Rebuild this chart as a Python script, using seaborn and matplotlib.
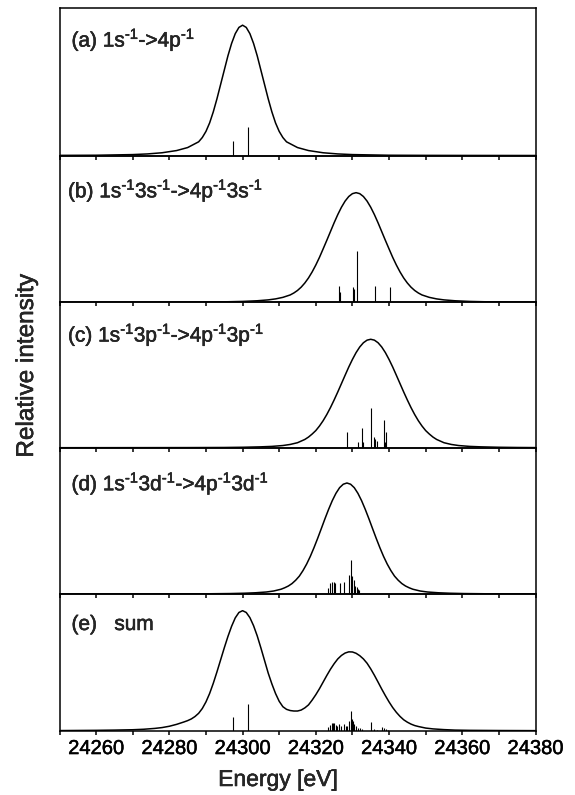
import matplotlib
matplotlib.use("Agg")
import matplotlib.pyplot as plt
import matplotlib.patheffects as pe
from matplotlib.ticker import MultipleLocator
import pandas as pd
import seaborn as sns

# ---------------------------------------------------------------------------
# Broadened spectra, each normalised to the strongest maximum of its panel
# ---------------------------------------------------------------------------
energy_a = [24250, 24260, 24266, 24270, 24274, 24278, 24282, 24285, 24288] \
    + list(range(24289, 24313)) \
    + [24315, 24318, 24322, 24326, 24330, 24334, 24340, 24350, 24360, 24380]
intensity_a = [0.001, 0.002, 0.005, 0.007, 0.012, 0.021, 0.038, 0.061, 0.105,
               0.138, 0.185, 0.25, 0.335, 0.435, 0.545, 0.655, 0.765, 0.86, 0.935,
               0.983, 1.0, 0.983, 0.935, 0.86, 0.765, 0.655, 0.545, 0.435, 0.335,
               0.25, 0.185, 0.138, 0.105,
               0.061, 0.038, 0.021, 0.012, 0.007, 0.005, 0.002, 0.001, 0.0005, 0.0]

energy_b = [24250, 24270, 24280, 24290, 24296, 24300, 24304, 24307, 24309, 24311, 24313] \
    + list(range(24314, 24349)) \
    + [24349, 24351, 24353, 24355, 24358, 24362, 24366, 24372, 24380]
intensity_b = [0.0, 0.0005, 0.001, 0.003, 0.005, 0.008, 0.014, 0.022, 0.031, 0.045, 0.067,
               0.085, 0.108, 0.138, 0.176, 0.222, 0.277, 0.34, 0.41, 0.487, 0.565, 0.645,
               0.725, 0.80, 0.867, 0.923, 0.965, 0.991, 1.0, 0.991, 0.965, 0.923, 0.867,
               0.80, 0.725, 0.645, 0.565, 0.487, 0.41, 0.34, 0.277, 0.222, 0.176, 0.138,
               0.108, 0.085,
               0.067, 0.045, 0.031, 0.022, 0.014, 0.008, 0.005, 0.003, 0.001]

energy_c = [24250, 24270, 24285, 24295, 24300, 24305, 24308, 24311, 24313, 24315, 24317] \
    + list(range(24318, 24353)) \
    + [24353, 24355, 24357, 24359, 24362, 24365, 24370, 24375, 24380]
intensity_c = [0.0, 0.0005, 0.001, 0.002, 0.004, 0.008, 0.012, 0.020, 0.030, 0.046, 0.076,
               0.098, 0.126, 0.158, 0.200, 0.249, 0.306, 0.370, 0.440, 0.514, 0.591, 0.668,
               0.744, 0.814, 0.877, 0.929, 0.968, 0.992, 1.0, 0.992, 0.968, 0.929, 0.877,
               0.814, 0.744, 0.668, 0.591, 0.514, 0.440, 0.370, 0.306, 0.249, 0.200, 0.158,
               0.126, 0.098,
               0.076, 0.046, 0.030, 0.020, 0.012, 0.008, 0.004, 0.002, 0.001]

energy_d = [24250, 24270, 24283.5, 24290.5, 24296.5, 24300.5, 24303.5, 24306.5, 24308.5,
            24310.5, 24311.5] \
    + [24312.5 + k for k in range(33)] \
    + [24345.5, 24346.5, 24348.5, 24350.5, 24353.5, 24356.5, 24360.5, 24366.5, 24373.5, 24380]
intensity_d = [0.0, 0.0005, 0.001, 0.002, 0.004, 0.007, 0.011, 0.018, 0.027, 0.043, 0.056,
               0.072, 0.094, 0.124, 0.161, 0.211, 0.270, 0.339, 0.417, 0.501, 0.589, 0.678,
               0.763, 0.841, 0.907, 0.958, 0.989, 1.0, 0.989, 0.958, 0.907, 0.841, 0.763,
               0.678, 0.589, 0.501, 0.417, 0.339, 0.270, 0.211, 0.161, 0.124, 0.094, 0.072,
               0.056, 0.043, 0.027, 0.018, 0.011, 0.007, 0.004, 0.002, 0.001, 0.0005]

energy_e = [24250, 24260, 24265, 24270, 24273, 24276, 24278, 24280, 24282, 24284, 24285,
            24286, 24287] \
    + list(range(24288, 24349)) \
    + [24350, 24352, 24355, 24358, 24362, 24370, 24380]
intensity_e = [0.001, 0.003, 0.005, 0.008, 0.012, 0.019, 0.026, 0.037, 0.053, 0.073, 0.084,
               0.098, 0.118,
               0.145, 0.185, 0.24, 0.31, 0.395, 0.49, 0.59, 0.69, 0.785, 0.87, 0.94, 0.985,
               1.0, 0.985, 0.942, 0.875, 0.79, 0.69, 0.585, 0.48, 0.39, 0.31, 0.245, 0.20,
               0.178, 0.168, 0.164, 0.164, 0.172, 0.19, 0.215, 0.255, 0.30, 0.35, 0.405,
               0.46, 0.512, 0.558, 0.598, 0.627, 0.647, 0.657, 0.656, 0.645, 0.625, 0.598,
               0.562, 0.515, 0.462, 0.405, 0.347, 0.292, 0.24, 0.193, 0.153, 0.119, 0.091,
               0.071, 0.055, 0.043, 0.035,
               0.022, 0.015, 0.009, 0.005, 0.003, 0.0015, 0.0005]

# ---------------------------------------------------------------------------
# Individual transition lines (same normalisation as the curve of the panel)
# ---------------------------------------------------------------------------
lines_a_energy = [24297.3, 24301.4]
lines_a_height = [0.11, 0.215]

lines_b_energy = [24326.2, 24326.6, 24330.2, 24330.5, 24331.2, 24336.1, 24340.3]
lines_b_height = [0.149, 0.098, 0.143, 0.12, 0.468, 0.149, 0.14]

lines_c_energy = [24328.6, 24331.5, 24332.5, 24333.0, 24335.1, 24335.8, 24336.2, 24336.6,
                  24338.5, 24338.8, 24339.2]
lines_c_height = [0.145, 0.055, 0.182, 0.053, 0.363, 0.099, 0.083, 0.058, 0.252, 0.053, 0.145]

lines_d_energy = [24323.2, 24323.8, 24324.4, 24324.9, 24325.2, 24326.5, 24327.7, 24329.1,
                  24329.6, 24330.0, 24330.4, 24330.8, 24331.2, 24331.5, 24331.8]
lines_d_height = [0.055, 0.095, 0.105, 0.11, 0.10, 0.10, 0.105, 0.168, 0.31, 0.165, 0.13,
                  0.072, 0.06, 0.045, 0.035]

lines_e_energy = [24297.3, 24301.4, 24323.2, 24323.9, 24324.3, 24324.6, 24325.0, 24325.4,
                  24325.9, 24326.4, 24326.8, 24327.7, 24328.2, 24328.6, 24329.1, 24329.5,
                  24329.8, 24330.1, 24330.5, 24330.9, 24331.4, 24332.1, 24332.7, 24335.0,
                  24335.9, 24336.6, 24338.2, 24338.6, 24339.1, 24339.7]
lines_e_height = [0.111, 0.219, 0.031, 0.05, 0.064, 0.064, 0.061, 0.05, 0.036, 0.056, 0.042,
                  0.053, 0.036, 0.042, 0.083, 0.167, 0.097, 0.078, 0.058, 0.036, 0.025, 0.019,
                  0.014, 0.069, 0.014, 0.008, 0.031, 0.019, 0.014, 0.008]

# superscript "-1" written with a plain hyphen
SUP = r"$^{\text{-1}}$"
panel_labels = [
    f"(a) 1s{SUP}->4p{SUP}",
    f"(b) 1s{SUP}3s{SUP}->4p{SUP}3s{SUP}",
    f"(c) 1s{SUP}3p{SUP}->4p{SUP}3p{SUP}",
    f"(d) 1s{SUP}3d{SUP}->4p{SUP}3d{SUP}",
    "(e)   sum",
]
x_ticks = [24260, 24280, 24300, 24320, 24340, 24360, 24380]
x_range = (24250, 24380)
x_label = "Energy [eV]"
y_label = "Relative intensity"

curves = [(energy_a, intensity_a), (energy_b, intensity_b), (energy_c, intensity_c),
          (energy_d, intensity_d), (energy_e, intensity_e)]
sticks = [(lines_a_energy, lines_a_height), (lines_b_energy, lines_b_height),
          (lines_c_energy, lines_c_height), (lines_d_energy, lines_d_height),
          (lines_e_energy, lines_e_height)]

# ---------------------------------------------------------------------------
# Layout (pixels of a 575 x 795 canvas)
# ---------------------------------------------------------------------------
sns.set_style("ticks")
plt.rcParams.update({
    "font.family": ["Liberation Sans", "DejaVu Sans"],
    "mathtext.fontset": "custom",
    "mathtext.rm": "Liberation Sans",
    "mathtext.it": "Liberation Sans:italic",
    "mathtext.bf": "Liberation Sans:bold",
    "axes.linewidth": 1.1,
    "axes.edgecolor": "black",
})
heavy = [pe.withStroke(linewidth=0.35, foreground="black")]

W, H = 575, 795
fig = plt.figure(figsize=(W / 100, H / 100), dpi=100)
fig.patch.set_facecolor("white")

edges = [8, 155.5, 302.3, 447.7, 594, 730.7]
left_px, right_px = 59.5, 535.5
y_tops = [1.132, 1.339, 1.341, 1.318, 1.139]
label_x = [71.5, 68, 68, 71.5, 71.5]
label_base = [38.7, 42.0, 39.4, 42.7, 36.0]

for i, ((ex, iy), (sx, sh)) in enumerate(zip(curves, sticks)):
    top, bottom = edges[i], edges[i + 1]
    ax = fig.add_axes([left_px / W, 1 - bottom / H,
                       (right_px - left_px) / W, (bottom - top) / H])
    ax.set_facecolor("none")

    df = pd.DataFrame({"energy": ex, "intensity": iy})
    sns.lineplot(data=df, x="energy", y="intensity", ax=ax, color="black",
                 linewidth=1.1, sort=True, estimator=None)
    ax.vlines(sx, 0, sh, color="black", linewidth=0.8)

    ax.set_xlim(*x_range)
    ax.set_ylim(0, y_tops[i])
    ax.set_yticks([])
    ax.set_xlabel("")
    ax.set_ylabel("")
    ax.xaxis.set_major_locator(MultipleLocator(20))
    ax.xaxis.set_minor_locator(MultipleLocator(10))
    ax.set_xticks(x_ticks)
    ax.tick_params(axis="x", which="both", direction="out", length=3, width=1.1,
                   bottom=True, top=False, labelsize=14.5, pad=3, colors="black")
    if i < len(curves) - 1:
        ax.tick_params(axis="x", labelbottom=False)
    else:
        for lab in ax.get_xticklabels():
            lab.set_path_effects(heavy)
    for s in ax.spines.values():
        s.set_visible(True)
        s.set_linewidth(1.1)
        s.set_color("black")

    ax.text((label_x[i] - left_px) / (right_px - left_px),
            1 - label_base[i] / (bottom - top), panel_labels[i],
            transform=ax.transAxes, ha="left", va="baseline", fontsize=15,
            path_effects=heavy)

fig.text(278 / W, 1 - 786 / H, x_label, ha="center", va="baseline", fontsize=16.5,
         path_effects=heavy)
fig.text(27 / W, 1 - 366 / H, y_label, ha="center", va="center", rotation=90,
         fontsize=17.5, path_effects=heavy)

fig.savefig("out.png", dpi=100, facecolor="white")
